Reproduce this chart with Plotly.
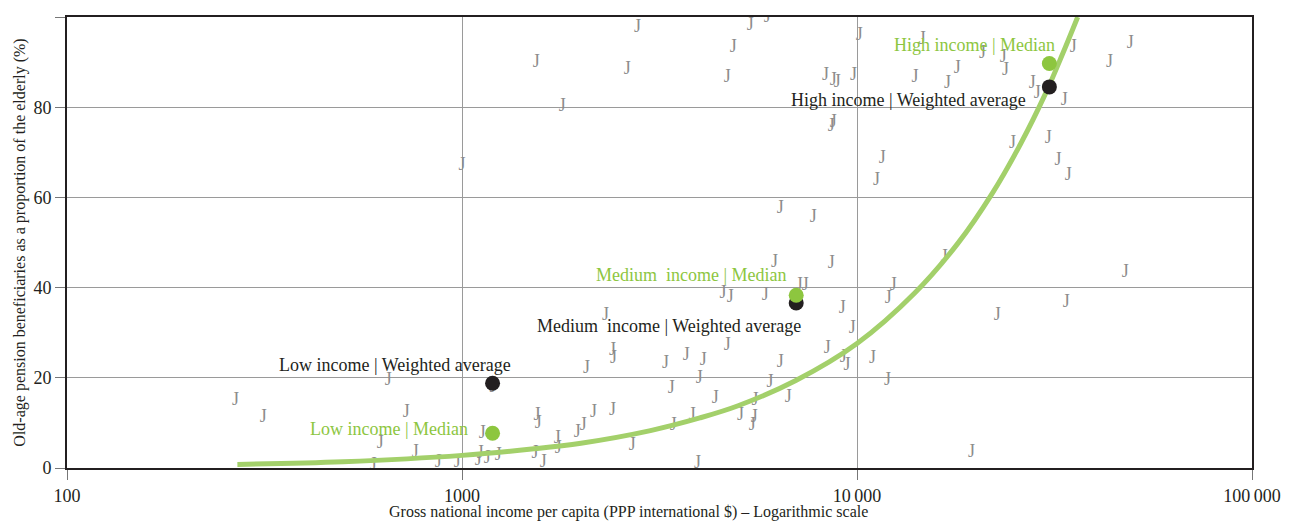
import plotly.graph_objects as go

# Country scatter (GNI per capita PPP, coverage %)
country_gni = [267, 314, 621, 596, 651, 723, 762, 871, 973, 1000,
               2780, 1541, 2622, 1795, 2307, 2404, 2417, 2065, 3273, 3698,
               4083, 3990, 3388, 1199, 1549, 1559, 2153, 2404, 2028, 1959,
               1742, 1753, 1531, 1606, 2698, 3428, 3828, 3945, 1125, 1112,
               1159, 1236, 1099,
               5929, 5370, 4864, 4694, 10140, 8318, 8710, 8913, 9795, 14030,
               14620, 16940, 8710, 8610, 11590, 11200, 6397, 7745, 6180, 8610,
               7145, 7396, 4581, 4775, 5861, 12360, 11995, 9183, 9727, 4694,
               8414, 9226, 10940, 9441, 6397, 6026, 11940, 4375, 5521, 6699,
               5070, 5495, 5433,
               35300, 49180, 43550, 20770, 23470, 17950, 23750, 27770, 28580, 33480,
               24740, 30480, 32300, 34280, 16630, 47790, 33880, 22660, 19480]
country_cov = [15.0, 11.2, 5.5, 0.6, 19.4, 12.4, 3.5, 1.3, 1.3, 67.1,
               97.7, 90.0, 88.4, 80.2, 33.9, 26.1, 24.3, 22.1, 23.2, 25.0,
               23.9, 19.9, 17.7, 17.9, 11.7, 9.9, 12.4, 12.8, 9.5, 7.9,
               6.6, 4.4, 3.3, 1.3, 5.0, 9.5, 11.7, 1.0, 7.7, 3.3,
               2.2, 2.8, 1.7,
               100.0, 98.2, 93.3, 86.6, 95.9, 87.1, 85.9, 85.5, 87.1, 86.6,
               95.0, 85.2, 76.7, 75.8, 68.6, 63.8, 57.6, 55.6, 45.6, 45.4,
               40.5, 40.5, 38.7, 37.8, 38.3, 40.5, 37.6, 35.4, 31.0, 27.2,
               26.5, 24.5, 24.3, 22.8, 23.4, 19.0, 19.4, 15.4, 15.0, 15.7,
               11.7, 11.2, 9.5,
               93.3, 94.2, 90.0, 91.9, 91.0, 88.6, 88.1, 85.2, 83.1, 81.5,
               72.0, 73.1, 68.2, 64.9, 46.7, 43.4, 36.7, 33.9, 3.5]

# Trend curve
trend_gni = [270, 500, 1000, 1500, 2000, 3000, 4000, 5000, 7000, 10000,
             14000, 18000, 22000, 26000, 30000, 33000, 36200]
trend_cov = [0.8, 1.4, 2.8, 4.2, 5.5, 8.3, 11.1, 13.8, 19.4, 27.6,
             38.8, 49.8, 60.9, 72.0, 83.0, 91.4, 100.0]

# Income-group summary points
group_labels = ["Low income", "Medium  income", "High income"]
group_gni = [1195, 7016, 30690]
median_cov = [7.7, 38.3, 89.7]
wavg_cov = [18.8, 36.6, 84.5]

x_tickvals = [100, 1000, 10000, 100000]
x_ticktext = ["100", "1000", "10\u2009000", "100\u2009000"]
y_tickvals = [0, 20, 40, 60, 80, 100]

GREEN = "#8dc63f"
CURVE = "#a3d06a"
BLACK = "#231f20"
GRAY = "#8c8c8c"
FONT = "Liberation Serif"

fig = go.Figure()
fig.add_trace(go.Scatter(x=country_gni, y=country_cov, mode="text", text=["J"] * len(country_gni),
                         textfont=dict(family=FONT, size=18, color=GRAY), hoverinfo="x+y",
                         showlegend=False))
fig.add_trace(go.Scatter(x=trend_gni, y=trend_cov, mode="lines",
                         line=dict(color=CURVE, width=5, shape="spline"), showlegend=False))
fig.add_trace(go.Scatter(x=group_gni, y=wavg_cov, mode="markers",
                         marker=dict(color=BLACK, size=15), showlegend=False))
fig.add_trace(go.Scatter(x=group_gni, y=median_cov, mode="markers",
                         marker=dict(color=GREEN, size=15), showlegend=False))

# label placements: (right edge in log10 x, centre y)
med_lab = [(3.021, 8.6), (3.829, 42.7), (4.507, 93.7)]
wavg_lab = [(3.130, 22.8), (3.864, 31.4), (4.434, 81.5)]

for i, (lx, ly) in enumerate(med_lab):
    fig.add_annotation(x=lx, y=ly, xref="x", yref="y", text=group_labels[i] + " | Median",
                       showarrow=False, xanchor="right", yanchor="middle",
                       font=dict(family=FONT, size=18, color=GREEN))
for i, (lx, ly) in enumerate(wavg_lab):
    fig.add_annotation(x=lx, y=ly, xref="x", yref="y", text=group_labels[i] + " | Weighted average",
                       showarrow=False, xanchor="right", yanchor="middle",
                       font=dict(family=FONT, size=18, color=BLACK))

fig.add_annotation(x=0.4736, y=-0.097, xref="paper", yref="paper",
                   text="Gross national income per capita (PPP international $) \u2013 Logarithmic scale",
                   showarrow=False, xanchor="center", yanchor="middle",
                   font=dict(family=FONT, size=16, color=BLACK))

fig.update_xaxes(type="log", range=[2, 5], tickvals=x_tickvals, ticktext=x_ticktext,
                 showgrid=True, gridcolor="#9a9a9a", gridwidth=1, automargin=False,
                 showline=True, linecolor=BLACK, linewidth=2, mirror=True,
                 ticks="outside", ticklen=10, tickcolor="#777777", tickwidth=1,
                 tickfont=dict(family=FONT, size=18, color=BLACK), zeroline=False)
fig.update_yaxes(range=[0, 100], tickvals=y_tickvals, automargin=False,
                 showgrid=True, gridcolor="#9a9a9a", gridwidth=1,
                 showline=True, linecolor=BLACK, linewidth=2, mirror=True,
                 ticks="outside", ticklen=10, tickcolor="#777777", tickwidth=1,
                 tickfont=dict(family=FONT, size=18, color=BLACK), zeroline=False,
                 title=dict(text="Old-age pension beneficiaries as a proportion of the elderly (%)",
                            font=dict(family=FONT, size=16, color=BLACK), standoff=4))

fig.update_layout(width=1285, height=515, margin=dict(l=59, r=41, t=9, b=55),
                  plot_bgcolor="white", paper_bgcolor="white", showlegend=False)

fig.write_html("out.html")
